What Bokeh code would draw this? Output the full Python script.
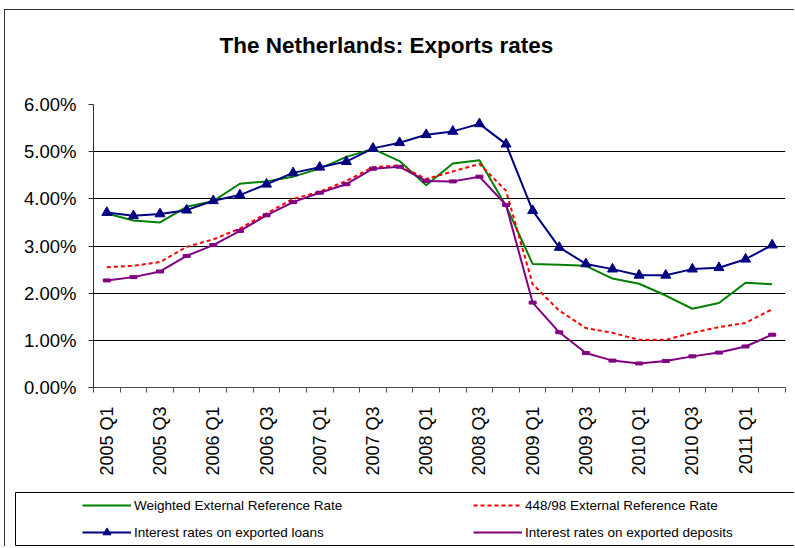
from bokeh.plotting import figure
from bokeh.models import (Range1d, FixedTicker, PrintfTickFormatter, Legend, LegendItem,
                          ColumnDataSource, Title)
from bokeh.embed import file_html
from bokeh.resources import INLINE
import numpy as np

quarters = ["2005 Q1", "2005 Q2", "2005 Q3", "2005 Q4",
            "2006 Q1", "2006 Q2", "2006 Q3", "2006 Q4",
            "2007 Q1", "2007 Q2", "2007 Q3", "2007 Q4",
            "2008 Q1", "2008 Q2", "2008 Q3", "2008 Q4",
            "2009 Q1", "2009 Q2", "2009 Q3", "2009 Q4",
            "2010 Q1", "2010 Q2", "2010 Q3", "2010 Q4",
            "2011 Q1", "2011 Q2"]
weighted = [3.69, 3.54, 3.50, 3.83, 3.95, 4.32, 4.37, 4.47, 4.64, 4.89, 5.06, 4.80, 4.29,
            4.75, 4.82, 3.85, 2.62, 2.60, 2.58, 2.31, 2.20, 1.95, 1.67, 1.79, 2.22, 2.19]
ref448 = [2.55, 2.58, 2.66, 2.98, 3.14, 3.37, 3.69, 4.00, 4.15, 4.38, 4.67, 4.71, 4.42,
          4.58, 4.74, 4.17, 2.19, 1.63, 1.26, 1.16, 1.01, 1.01, 1.16, 1.28, 1.37, 1.66]
loans = [3.71, 3.64, 3.68, 3.76, 3.96, 4.08, 4.31, 4.55, 4.67, 4.79, 5.07, 5.19, 5.36,
         5.43, 5.59, 5.16, 3.75, 2.97, 2.62, 2.51, 2.38, 2.38, 2.51, 2.54, 2.72, 3.02]
deposits = [2.27, 2.34, 2.46, 2.79, 3.02, 3.32, 3.65, 3.93, 4.13, 4.31, 4.64, 4.68, 4.38,
            4.37, 4.47, 3.87, 1.80, 1.17, 0.73, 0.57, 0.51, 0.56, 0.66, 0.74, 0.87, 1.12]
y_ticks = [0, 1, 2, 3, 4, 5, 6]
series_names = ["Weighted External Reference Rate", "448/98 External Reference Rate",
                "Interest rates on exported loans", "Interest rates on exported deposits"]
title_text = "The Netherlands: Exports rates"

FONT = "Liberation Sans"
GREEN, RED, NAVY, PURPLE = "#008000", "#FF0000", "#000080", "#800080"

x = np.arange(len(quarters))
src = ColumnDataSource(dict(x=x, w=weighted, r=ref448, l=loans, d=deposits))

p = figure(width=790, height=480, output_backend="svg", toolbar_location=None,
           x_range=Range1d(-0.5, len(quarters) - 0.5), y_range=Range1d(0, 6),
           min_border_left=88, min_border_right=10, min_border_top=94, min_border_bottom=103)
p.title = None
p.outline_line_color = None
p.background_fill_color = "white"
p.border_fill_color = "white"
p.styles = {"margin-left": "4px", "margin-top": "9px",
            "border-top": "1px solid #303030", "border-left": "1px solid #303030"}

# spacer title next to the frame, then the real title above it
p.add_layout(Title(text=" ", text_font_size="10px", standoff=34), "above")
p.add_layout(Title(text=title_text, align="left", offset=126,
                   text_font=FONT, text_font_size="22.5px", text_font_style="bold",
                   text_color="black", standoff=0), "above")

p.xgrid.grid_line_color = None
p.ygrid.grid_line_color = "black"
p.ygrid.grid_line_width = 1
p.ygrid.ticker = FixedTicker(ticks=y_ticks)

p.yaxis.ticker = FixedTicker(ticks=y_ticks)
p.yaxis.formatter = PrintfTickFormatter(format="%.2f%%")
p.yaxis.major_label_text_font = FONT
p.yaxis.major_label_text_font_size = "18.5px"
p.yaxis.major_label_text_color = "black"
p.yaxis.major_tick_out = 5
p.yaxis.major_tick_in = 0
p.yaxis.minor_tick_out = 0
p.yaxis.minor_tick_in = 0
p.yaxis.axis_line_color = "#303030"
p.yaxis.major_tick_line_color = "#303030"
p.yaxis.major_label_standoff = 12

label_idx = list(range(0, len(quarters), 2))
p.xaxis.ticker = FixedTicker(ticks=label_idx,
                             minor_ticks=[i - 0.5 for i in range(len(quarters) + 1)])
p.xaxis.major_label_overrides = {i: quarters[i] for i in label_idx}
p.xaxis.major_label_orientation = np.pi / 2
p.xaxis.major_label_text_font = FONT
p.xaxis.major_label_text_font_size = "18px"
p.xaxis.major_label_text_color = "black"
p.xaxis.major_tick_out = 0
p.xaxis.major_tick_in = 0
p.xaxis.minor_tick_out = 5
p.xaxis.minor_tick_in = 0
p.xaxis.axis_line_color = "#505050"
p.xaxis.minor_tick_line_color = "#505050"
p.xaxis.major_label_standoff = 14

p.line("x", "w", source=src, line_color=GREEN, line_width=2)
p.line("x", "r", source=src, line_color=RED, line_width=2, line_dash="4 3")
p.line("x", "d", source=src, line_color=PURPLE, line_width=2)
p.rect("x", "d", source=src, width=7, height=3, width_units="screen", height_units="screen",
       fill_color=PURPLE, line_color=PURPLE)
p.line("x", "l", source=src, line_color=NAVY, line_width=2)
p.scatter("x", "l", source=src, marker="triangle", size=10, fill_color=NAVY, line_color=NAVY)

# legend panel: its own small figure whose frame outline is the legend box
lg = figure(width=790, height=57, output_backend="svg", toolbar_location=None,
            x_range=Range1d(0, 1), y_range=Range1d(0, 1),
            x_axis_location=None, y_axis_location=None,
            min_border_left=10, min_border_right=0, min_border_top=3, min_border_bottom=1)
lg.title = None
lg.grid.visible = False
lg.outline_line_color = "black"
lg.outline_line_width = 1
lg.border_fill_color = "white"
lg.styles = {"margin-left": "4px", "border-left": "1px solid #303030"}
# single NaN point: nothing is drawn in the frame, only the legend samples
nodata = ColumnDataSource(dict(x=[np.nan], y=[np.nan]))
r1 = lg.line("x", "y", source=nodata, line_color=GREEN, line_width=2)
r2 = lg.line("x", "y", source=nodata, line_color=RED, line_width=2, line_dash="4 3")
r3 = lg.line("x", "y", source=nodata, line_color=NAVY, line_width=2)
r3b = lg.scatter("x", "y", source=nodata, marker="triangle", size=6, fill_color=NAVY, line_color=NAVY)
r4 = lg.line("x", "y", source=nodata, line_color=PURPLE, line_width=2)
items = [LegendItem(label=series_names[0], renderers=[r1]),
         LegendItem(label=series_names[1], renderers=[r2]),
         LegendItem(label=series_names[2], renderers=[r3, r3b]),
         LegendItem(label=series_names[3], renderers=[r4])]
leg = Legend(items=items, location=(67, 3), orientation="horizontal", ncols=2,
             padding=0, margin=0, spacing=7, glyph_width=49, glyph_height=20,
             label_height=20, label_width=332, label_standoff=3,
             label_text_font=FONT, label_text_font_size="13.5px", label_text_color="black",
             border_line_color=None, background_fill_alpha=0)
lg.add_layout(leg, "center")

open("out.html", "w").write(file_html([p, lg], INLINE))
